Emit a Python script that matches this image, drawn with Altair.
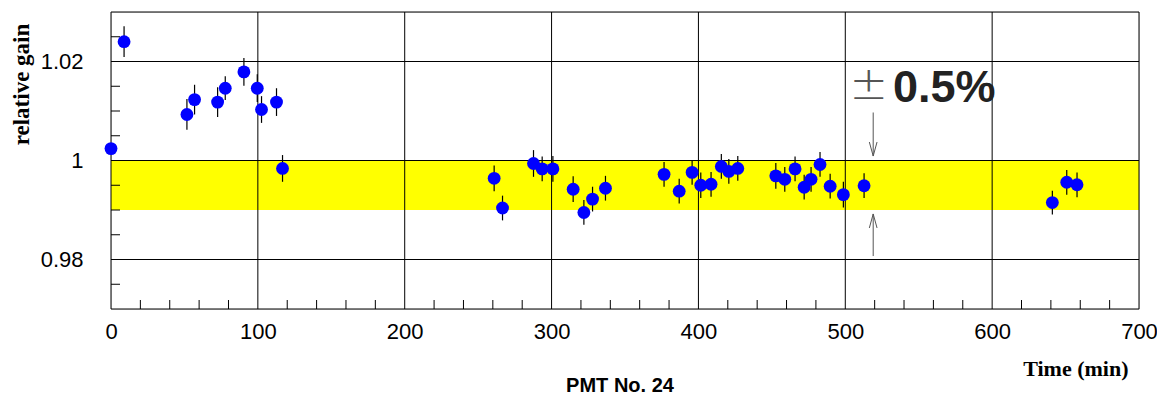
import altair as alt
import pandas as pd

# ---- data ----
times = [0, 8.9, 51.7, 56.9, 72.6, 77.8, 90.5, 99.6, 102.5, 112.7, 116.8,
         260.9, 266.6, 287.7, 293.6, 300.9, 314.7, 322.0, 327.9, 336.7,
         376.6, 386.9, 395.7, 401.6, 408.6, 415.6, 420.7, 426.8,
         452.7, 458.8, 465.8, 472.0, 476.7, 482.8, 489.7, 498.7, 512.8,
         641.0, 650.8, 657.8]
gains = [1.0024, 1.0240, 1.0093, 1.0123, 1.0118, 1.0146, 1.0179, 1.0146, 1.0103, 1.0118, 0.9984,
         0.9964, 0.9904, 0.9994, 0.9983, 0.9983, 0.9942, 0.9895, 0.9922, 0.9944,
         0.9972, 0.9938, 0.9976, 0.9950, 0.9952, 0.9988, 0.9978, 0.9984,
         0.9969, 0.9962, 0.9983, 0.9946, 0.9962, 0.9992, 0.9948, 0.9931, 0.9949,
         0.9915, 0.9956, 0.9951]
errors = [0.0010, 0.0031, 0.0031, 0.0030, 0.0030, 0.0024, 0.0028, 0.0028, 0.0027, 0.0028, 0.0027,
          0.0026, 0.0025, 0.0027, 0.0025, 0.0026, 0.0026, 0.0025, 0.0025, 0.0025,
          0.0025, 0.0025, 0.0025, 0.0026, 0.0025, 0.0025, 0.0025, 0.0025,
          0.0026, 0.0025, 0.0025, 0.0025, 0.0025, 0.0025, 0.0025, 0.0026, 0.0025,
          0.0024, 0.0025, 0.0025]

band_low, band_high = 0.99, 1.00
x_major = [0, 100, 200, 300, 400, 500, 600, 700]
y_major = [0.98, 1.00, 1.02]
frame_y = [0.97, 1.03]
x_minor = [v for v in range(20, 700, 20) if v % 100 != 0]
y_minor = [0.975, 0.985, 0.99, 0.995, 1.005, 1.01, 1.015, 1.025]

arrow_x = [519, 519]
arrow_from = [1.0097, 0.9807]
arrow_to = [1.0009, 0.9892]

W, H = 1028, 297

df = pd.DataFrame({"t": times, "g": gains, "e": errors})
df["lo"] = df["g"] - df["e"]
df["hi"] = df["g"] + df["e"]

xscale = alt.Scale(domain=[0, 700], nice=False, zero=False)
yscale = alt.Scale(domain=[0.97, 1.03], nice=False, zero=False)

xaxis = alt.Axis(values=x_major, grid=False, ticks=False, domain=False,
                 labelFont="Liberation Sans", labelFontSize=22, labelColor="black",
                 labelPadding=12, labelFlush=False, labelOverlap=False, format="d",
                 titleFont="Liberation Serif", titleFontSize=22, titleFontWeight="bold",
                 titleColor="black", titleAnchor="end", titleAlign="right",
                 titleBaseline="alphabetic", titleX=1017, titleY=66)
yaxis = alt.Axis(values=y_major, grid=False, ticks=False, domain=False,
                 labelExpr="datum.value == 1 ? '1' : format(datum.value, '.2f')",
                 labelFont="Liberation Sans", labelFontSize=22, labelColor="black",
                 labelPadding=28, labelFlush=False, labelOverlap=False,
                 titleFont="Liberation Serif", titleFontSize=23, titleFontWeight="bold",
                 titleColor="black", titleAngle=270, titleAlign="center",
                 titleBaseline="middle", titleX=-90, titleY=72)


def X(f):
    return alt.X(f, type="quantitative", scale=xscale, axis=xaxis, title="Time (min)")


def Y(f):
    return alt.Y(f, type="quantitative", scale=yscale, axis=yaxis, title="relative gain")


band = alt.Chart(pd.DataFrame({"x0": [0], "x1": [700], "y0": [band_low], "y1": [band_high]})).mark_rect(
    color="#ffff00").encode(x=X("x0"), x2="x1", y=Y("y0"), y2="y1")

vgrid = alt.Chart(pd.DataFrame({"x0": x_major})).mark_rule(color="black", strokeWidth=1).encode(x=X("x0"))
hgrid = alt.Chart(pd.DataFrame({"y0": y_major + frame_y})).mark_rule(color="black", strokeWidth=1).encode(y=Y("y0"))

xticks = alt.Chart(pd.DataFrame({"x0": x_minor})).mark_rule(color="black", strokeWidth=1).encode(
    x=X("x0"), y=alt.value(H - 9), y2=alt.value(H))
yticks = alt.Chart(pd.DataFrame({"y0": y_minor})).mark_rule(color="black", strokeWidth=1).encode(
    y=Y("y0"), x=alt.value(0), x2=alt.value(9))

ebars = alt.Chart(df).mark_rule(color="black", strokeWidth=1.2).encode(x=X("t"), y=Y("lo"), y2="hi")
points = alt.Chart(df).mark_circle(size=165, color="#0000ff", opacity=1).encode(x=X("t"), y=Y("g"))

adf = pd.DataFrame({"x0": arrow_x, "y0": arrow_from, "y1": arrow_to})
shafts = alt.Chart(adf).mark_rule(color="#555555", strokeWidth=1).encode(x=X("x0"), y=Y("y0"), y2="y1")
head_down = alt.Chart(adf.iloc[[0]]).mark_point(
    shape="M -0.55 -2 L 0 0 L 0.55 -2", size=196, filled=False, color="#555555", strokeWidth=1, opacity=1
).encode(x=X("x0"), y=Y("y1"))
head_up = alt.Chart(adf.iloc[[1]]).mark_point(
    shape="M -0.55 2 L 0 0 L 0.55 2", size=196, filled=False, color="#555555", strokeWidth=1, opacity=1
).encode(x=X("x0"), y=Y("y1"))

pm = alt.Chart(pd.DataFrame({"x0": [516], "y0": [1.0124], "s": ["±"]})).mark_text(
    font="DejaVu Sans", fontSize=46, fontWeight=200, color="#555555", align="center", baseline="alphabetic"
).encode(x=X("x0"), y=Y("y0"), text="s")
pct = alt.Chart(pd.DataFrame({"x0": [532.5], "y0": [1.0118], "s": ["0.5%"]})).mark_text(
    font="Liberation Sans", fontSize=45, fontWeight="bold", color="#222222", align="left", baseline="alphabetic"
).encode(x=X("x0"), y=Y("y0"), text="s")

caption = alt.Chart(pd.DataFrame({"s": ["PMT No. 24"]})).mark_text(
    font="Liberation Sans", fontSize=20, fontWeight="bold", color="black", align="center", baseline="alphabetic"
).encode(x=alt.value(509), y=alt.value(H + 83), text="s")

chart = alt.layer(band, vgrid, hgrid, xticks, yticks, ebars, points, shafts, head_down, head_up, pm, pct,
                  caption).properties(
    width=W, height=H,
    autosize=alt.AutoSizeParams(type="none"),
    padding={"left": 103, "top": 4, "right": 18, "bottom": 88},
).configure_view(stroke="black", strokeWidth=1).configure(background="white")

chart.save("out.html", embed_options={"renderer": "svg", "actions": False})
